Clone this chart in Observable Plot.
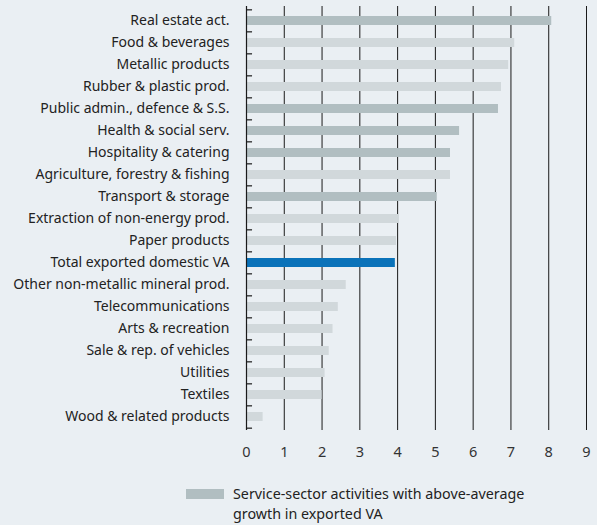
<!DOCTYPE html>
<html><head><meta charset="utf-8">
<script src="https://cdn.jsdelivr.net/npm/d3@7"></script>
<script src="https://cdn.jsdelivr.net/npm/@observablehq/plot@0.6"></script>
<style>
html,body{margin:0;padding:0;background:#eaeff3;}
body{width:597px;height:525px;overflow:hidden;font-family:"Noto Sans",sans-serif;color:#222;position:relative;}
#chart svg{display:block;}
#legend{position:absolute;left:186px;top:484px;display:flex;align-items:flex-start;font-size:14.3px;line-height:20px;}
#legend .sw{width:38px;height:10px;background:#b1bec1;margin-top:5px;margin-right:9px;flex:none;}
</style></head>
<body>
<div id="chart"></div>
<div id="legend"><div class="sw"></div><div>Service-sector activities with above-average<br>growth in exported VA</div></div>
<script>
const categories = ["Real estate act.","Food & beverages","Metallic products","Rubber & plastic prod.","Public admin., defence & S.S.","Health & social serv.","Hospitality & catering","Agriculture, forestry & fishing","Transport & storage","Extraction of non-energy prod.","Paper products","Total exported domestic VA","Other non-metallic mineral prod.","Telecommunications","Arts & recreation","Sale & rep. of vehicles","Utilities","Textiles","Wood & related products"];
const values = [8.08,7.10,6.94,6.75,6.67,5.64,5.40,5.40,5.05,4.05,3.97,3.94,2.64,2.43,2.29,2.19,2.08,2.00,0.44];
const groups = ["service","other","other","other","service","service","service","other","service","other","other","total","other","other","other","other","other","other","other"];
const xTicks = [0,1,2,3,4,5,6,7,8,9];
const colors = {service:"#b1bec1", other:"#d1d8db", total:"#0a72b9"};

const data = categories.map((c,i)=>({cat:c, value:values[i], group:groups[i]}));
const W = 597, H = 466, mt = 6, mb = 36;
const step = (H - mt - mb) / categories.length;

const chart = Plot.plot({
  width: W, height: H,
  marginLeft: 246, marginRight: 11, marginTop: mt, marginBottom: mb,
  style: {background: "transparent", fontFamily: "Noto Sans, sans-serif", fontSize: "14px", color: "#222"},
  x: {domain: [0, 9], ticks: xTicks, label: null},
  y: {domain: categories, paddingInner: 0.6, paddingOuter: 0.3, label: null},
  marks: [
    Plot.ruleX(xTicks.filter(d => d > 0), {stroke: "#1a1a1a", strokeWidth: 1}),
    Plot.barX(data, {y: "cat", x: "value", fill: d => colors[d.group]}),
    Plot.ruleX([0], {stroke: "#1a1a1a", strokeWidth: 1.2}),
    Plot.ruleY(categories, {y: d => d, x1: 0, x2: 0.16, dy: -step/2, stroke: "#1a1a1a", strokeWidth: 1.2}),
    Plot.ruleY([categories[categories.length-1]], {y: d => d, x1: 0, x2: 0.16, dy: step/2, stroke: "#1a1a1a", strokeWidth: 1.2}),
    Plot.axisY({tickSize: 0, tickPadding: 17, fontSize: 14, fill: "#222"}),
    Plot.axisX({ticks: xTicks, tickSize: 0, tickPadding: 16, fontSize: 14.5, fill: "#333"})
  ]
});
document.getElementById("chart").appendChild(chart);
</script>
</body></html>
